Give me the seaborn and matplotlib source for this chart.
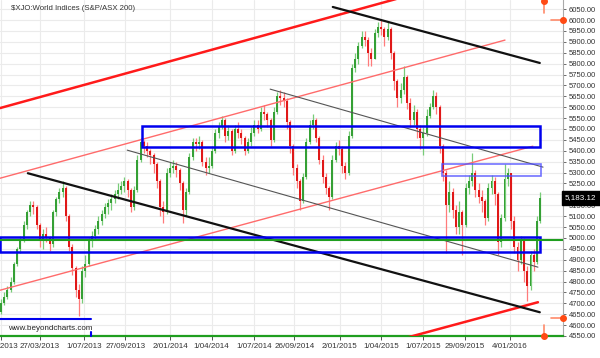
import numpy as np
import pandas as pd
import matplotlib
matplotlib.use("Agg")
import matplotlib.pyplot as plt
import matplotlib.dates as mdates
import seaborn as sns

# ---------------- data (weekly OHLC) ----------------
first_open = 4660.0
close = [4700, 4730, 4760, 4800, 4880, 4950, 4990, 5060, 5120, 5150,
         5140, 5060, 4990, 5020, 5000, 4970, 5120, 5180, 5210, 5230,
         5100, 4960, 4860, 4760, 4720, 4850, 4880, 4990, 5010, 5040,
         5080, 5110, 5140, 5160, 5180, 5200, 5220, 5240, 5260, 5220,
         5140, 5220, 5360, 5440, 5420, 5400, 5380, 5340, 5260, 5140,
         5120, 5300, 5320, 5330, 5310, 5250, 5130, 5210, 5370, 5440,
         5430, 5440, 5350, 5320, 5330, 5400, 5480, 5510, 5540, 5470,
         5490, 5400, 5500, 5480, 5460, 5400, 5440, 5480, 5520, 5500,
         5580, 5570, 5540, 5450, 5580, 5650, 5640, 5630, 5530, 5420,
         5320, 5260, 5170, 5280, 5440, 5520, 5540, 5460, 5360, 5280,
         5230, 5190, 5360, 5420, 5410, 5330, 5300, 5470, 5780, 5820,
         5880, 5920, 5910, 5850, 5820, 5940, 5970, 5960, 5920, 5960,
         5850, 5720, 5640, 5680, 5740, 5620, 5540, 5580, 5500, 5460,
         5480, 5560, 5600, 5650, 5600, 5420, 5300, 5150, 5210, 5130,
         5050, 5120, 5060, 5230, 5260, 5300, 5220, 5190, 5170, 5090,
         5230, 5260, 5200, 4980, 5090, 5270, 5300, 5080, 4960, 4900,
         4990, 4850, 4780, 4920, 4890, 5080, 5183.12]
high = [4720, 4750, 4780, 4820, 4890, 4960, 5010, 5080, 5130, 5170,
        5170, 5150, 5070, 5040, 5050, 5010, 5130, 5190, 5230, 5260,
        5240, 5110, 4970, 4870, 4790, 4870, 4920, 5000, 5030, 5060,
        5100, 5130, 5160, 5180, 5200, 5220, 5250, 5260, 5280, 5270,
        5230, 5240, 5380, 5460, 5450, 5440, 5410, 5390, 5350, 5270,
        5170, 5320, 5350, 5360, 5350, 5320, 5260, 5230, 5390, 5460,
        5460, 5470, 5450, 5370, 5370, 5420, 5500, 5530, 5560, 5550,
        5520, 5500, 5520, 5530, 5500, 5470, 5460, 5510, 5540, 5540,
        5600, 5610, 5580, 5550, 5600, 5670, 5680, 5670, 5640, 5540,
        5430, 5340, 5270, 5300, 5460, 5540, 5570, 5550, 5470, 5380,
        5300, 5240, 5380, 5440, 5450, 5420, 5350, 5490, 5800, 5850,
        5900, 5950, 5950, 5920, 5870, 5960, 5990, 6000, 5970, 5990,
        5970, 5860, 5730, 5710, 5790, 5750, 5640, 5610, 5590, 5520,
        5510, 5590, 5620, 5680, 5670, 5610, 5430, 5310, 5260, 5230,
        5150, 5170, 5130, 5250, 5290, 5390, 5310, 5250, 5220, 5180,
        5250, 5290, 5280, 5210, 5110, 5340, 5320, 5300, 5100, 4980,
        5010, 5000, 4870, 4940, 4950, 5100, 5210]
low = [4650, 4690, 4720, 4750, 4790, 4870, 4930, 4980, 5040, 5100,
       5110, 5040, 4960, 4950, 4980, 4940, 4960, 5100, 5160, 5190,
       5080, 4940, 4830, 4730, 4640, 4700, 4820, 4870, 4960, 4990,
       5020, 5060, 5090, 5110, 5130, 5160, 5180, 5200, 5210, 5190,
       5120, 5130, 5210, 5350, 5390, 5370, 5340, 5300, 5230, 5100,
       5070, 5110, 5280, 5300, 5280, 5220, 5070, 5100, 5200, 5360,
       5400, 5410, 5330, 5290, 5300, 5320, 5390, 5460, 5500, 5440,
       5450, 5380, 5390, 5460, 5430, 5380, 5390, 5420, 5470, 5480,
       5490, 5540, 5510, 5420, 5440, 5570, 5610, 5600, 5500, 5390,
       5290, 5230, 5130, 5160, 5270, 5430, 5500, 5440, 5340, 5250,
       5200, 5130, 5180, 5350, 5380, 5300, 5270, 5290, 5460, 5760,
       5800, 5870, 5880, 5790, 5790, 5820, 5920, 5930, 5880, 5910,
       5820, 5680, 5600, 5620, 5660, 5590, 5510, 5520, 5460, 5410,
       5380, 5470, 5550, 5590, 5570, 5390, 5260, 4930, 5120, 5090,
       5020, 5020, 4920, 5050, 5200, 5240, 5190, 5160, 5120, 5060,
       5080, 5200, 5150, 4920, 4960, 5080, 5240, 5040, 4930, 4850,
       4880, 4800, 4710, 4760, 4850, 4880, 5070]
week_end = pd.date_range("2013-01-04", periods=len(close), freq="7D")

y_ticks = list(range(4550, 6051, 50))
date_ticks = ["2013-01-02", "2013-03-27", "2013-07-01", "2013-09-27",
              "2014-01-02", "2014-04-01", "2014-07-01", "2014-09-26",
              "2015-01-02", "2015-04-01", "2015-07-01", "2015-09-29",
              "2016-01-04"]
date_labels = ["2/01/2013", "27/03/2013", "1/07/2013", "27/09/2013",
               "2/01/2014", "1/04/2014", "1/07/2014", "26/09/2014",
               "2/01/2015", "1/04/2015", "1/07/2015", "29/09/2015",
               "4/01/2016"]

# trend lines: (name, start date, start value, end date, end value)
trend_names = ["red_upper", "red_mid_hi", "red_mid_lo", "red_lower",
               "black_upper", "black_lower", "gray_upper", "gray_lower"]
trend_start_date = ["2012-12-31", "2012-12-31", "2012-12-31", "2015-05-29",
                    "2014-12-18", "2013-03-01", "2014-08-05", "2013-10-01"]
trend_start_val = [5596, 5274, 4760, 4544, 6060, 5297, 5683, 5403]
trend_end_date = ["2015-05-11", "2015-12-24", "2016-02-22", "2016-03-04",
                  "2016-03-08", "2016-03-08", "2016-03-15", "2016-03-04"]
trend_end_val = [6101, 5908, 5421, 4705, 5803, 4659, 5325, 4866]

# zones: (start date, end date, low, high)
zone_start = ["2013-11-02", "2015-08-10", "2012-12-31"]
zone_end = ["2016-03-08", "2016-03-10", "2016-03-08"]
zone_low = [5417, 5284, 4934]
zone_high = [5513, 5339, 5003]

support_level = 4990
low_marker_level = 4627
low_marker_end = "2013-07-15"
range_high, range_low = 6000, 4631

x_start, x_end = "2012-12-31", "2016-04-27"
y_min, y_max = 4550, 6092

# ---------------- styling ----------------
sns.set_theme(style="white")
plt.rcParams["font.family"] = ["Liberation Sans", "DejaVu Sans"]

W, H = 600, 358
fig = plt.figure(figsize=(W / 100, H / 100), dpi=100)
ax = fig.add_axes([0, 1 - 336 / H, 563 / W, 336 / H])

d2n = lambda s: mdates.date2num(pd.Timestamp(s))

# grid
for d in date_ticks:
    ax.axvline(d2n(d), color="#ebebeb", lw=0.8, zorder=0)
for v in y_ticks:
    ax.axhline(v, color="#ebebeb", lw=0.8, zorder=0)

# candles
opens = np.array([first_open] + close[:-1])
cl = np.array(close)
xs = mdates.date2num(week_end) - 2
up = cl >= opens
wick_col = np.where(up, "#78cc78", "#ff7b7b")
body_col = np.where(up, "#35a035", "#e01818")
ax.vlines(xs, low, high, colors=wick_col, lw=0.9, zorder=2)
ax.bar(xs, cl - opens, bottom=opens, width=4.2, color=body_col,
       linewidth=0, zorder=3)

# trend lines via seaborn
styles = {"red_upper": ("#ff1a1a", 1.8), "red_mid_hi": ("#ff6b6b", 1.0),
          "red_mid_lo": ("#ff6b6b", 1.0), "red_lower": ("#ff1a1a", 1.8),
          "black_upper": ("#111111", 1.6), "black_lower": ("#111111", 1.6),
          "gray_upper": ("#555555", 0.8), "gray_lower": ("#555555", 0.8)}
for n, sd, sv, ed, ev in zip(trend_names, trend_start_date, trend_start_val,
                             trend_end_date, trend_end_val):
    df = pd.DataFrame({"x": [d2n(sd), d2n(ed)], "y": [sv, ev]})
    c, lw = styles[n]
    sns.lineplot(data=df, x="x", y="y", ax=ax, color=c, linewidth=lw,
                 estimator=None, sort=False, zorder=4)

# zones
zone_style = [("#0000ee", 1.8, 1.0), ("#5050ff", 1.2, 0.8), ("#0000ee", 1.8, 1.0)]
for (s, e, lo, hi), (c, lw, a) in zip(zip(zone_start, zone_end, zone_low, zone_high), zone_style):
    ax.add_patch(plt.Rectangle((d2n(s), lo), d2n(e) - d2n(s), hi - lo,
                               fill=False, ec=c, lw=lw, alpha=a, zorder=5))

# support line (green)
ax.axhline(support_level, color="#1f9e1f", lw=1.5, zorder=5)
# low marker (blue)
ax.plot([d2n(x_start), d2n(low_marker_end)], [low_marker_level] * 2,
        color="#0000ee", lw=1.5, zorder=5)
ax.plot([d2n(low_marker_end)] * 2, [y_min, y_min + 17], color="#0000ee",
        lw=1.5, zorder=6, clip_on=False)

# orange range markers
oc = "#ff4a14"
xv = d2n("2016-03-17")
xh0 = d2n("2016-04-01")
ax.plot([xv, xv], [y_max, 6032], color="#ff8a6a", lw=1.2, zorder=6)
ax.plot([xv], [6087], "o", color=oc, ms=4, zorder=7)
ax.plot([xh0, d2n(x_end)], [range_high] * 2, color="#ff8a6a", lw=1.2, zorder=6)
ax.plot([d2n(x_end) - 1], [range_high], "o", color=oc, ms=4, zorder=7, clip_on=False)
ax.plot([xh0, d2n(x_end)], [range_low] * 2, color="#ff8a6a", lw=1.2, zorder=6)
ax.plot([d2n(x_end) - 1], [range_low], "o", color=oc, ms=4, zorder=7, clip_on=False)
ax.plot([xv, xv], [4600, y_min], color="#ff8a6a", lw=1.2, zorder=6)
ax.plot([xv], [y_min + 2], "o", color=oc, ms=4, zorder=7, clip_on=False)

# axes
last = close[-1]
ax.set_xlim(d2n(x_start), d2n(x_end))
ax.set_ylim(y_min, y_max)
ax.set_xlabel("")
ax.set_ylabel("")
ax.yaxis.tick_right()
ax.set_yticks(y_ticks)
# the last-price box hides the tick label that it sits on
ax.set_yticklabels(["" if abs(v - last) < 25 else f"{v:.2f}" for v in y_ticks])
ax.set_xticks([d2n(d) for d in date_ticks])
ax.set_xticklabels(date_labels)
ax.tick_params(axis="y", direction="out", length=2, width=0.6, colors="#555555",
               labelsize=5.5, labelcolor="#333333", pad=2, right=True, left=False)
ax.tick_params(axis="x", direction="out", length=3, width=0.6, colors="#333333",
               labelsize=5.8, labelcolor="#333333", pad=2, bottom=True)
for s in ["left", "top"]:
    ax.spines[s].set_visible(False)
ax.spines["right"].set_color("#aaaaaa")
ax.spines["right"].set_linewidth(0.8)
ax.spines["bottom"].set_color("#1f9e1f")
ax.spines["bottom"].set_linewidth(1.6)

# last price label
ax.annotate(f"{last:,.2f}", xy=(1.0, last),
            xycoords=("axes fraction", "data"), xytext=(1.5, 0),
            textcoords="offset points", ha="left", va="center",
            fontsize=5.8, color="white",
            bbox=dict(boxstyle="square,pad=0.4", fc="black", ec="black"),
            annotation_clip=False, zorder=10)

# texts
fig.text(11 / W, 1 - 8 / H, "$XJO:World Indices (S&P/ASX 200)",
         fontsize=5.6, color="#333333", va="center", ha="left")
ax.text(d2n("2013-01-17"), 4583, "www.beyondcharts.com", fontsize=5.8,
        color="#222222", va="center", ha="left", zorder=8)

fig.savefig("out.png", dpi=100)
